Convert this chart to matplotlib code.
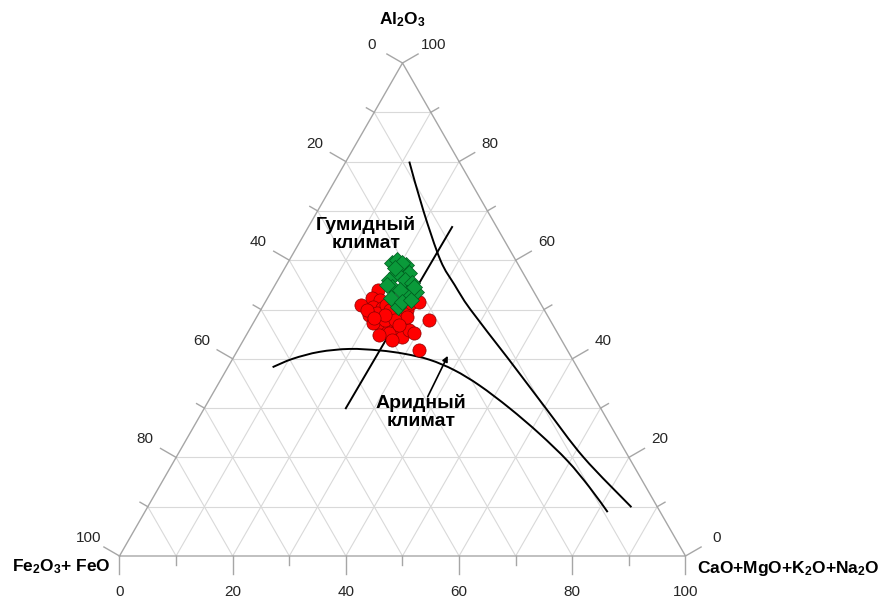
import numpy as np
import matplotlib
matplotlib.use("Agg")
import matplotlib.pyplot as plt
from matplotlib.path import Path
from matplotlib.patches import PathPatch

plt.rcParams['font.family'] = ['Liberation Sans', 'DejaVu Sans']
plt.rcParams['mathtext.default'] = 'regular'

# ternary data in percent: Al2O3 and CaO+MgO+K2O+Na2O (Fe2O3+FeO is the rest)
red_al = [54.0, 50.9, 52.3, 51.9, 50.5, 50.3, 49.3, 48.5, 48.9, 48.5, 49.3, 49.9,
          51.3, 51.5, 47.5, 46.9, 46.5, 47.3, 45.8, 45.2, 44.8, 44.4, 43.8, 45.8,
          45.2, 47.9, 41.8, 48.5, 50.9, 47.3, 49.9, 47.9, 50.9, 49.9,
          47.9, 48.9, 46.9, 48.3]
red_ca = [18.6, 17.3, 18.4, 20.0, 19.5, 21.3, 20.8, 22.9, 19.7, 24.0, 24.8, 25.8,
          25.9, 27.2, 26.3, 24.8, 23.2, 22.0, 26.2, 25.1, 23.5, 27.8, 26.3, 28.3,
          29.5, 30.8, 32.1, 26.5, 21.7, 21.1, 18.7, 22.9, 23.5, 22.8,
          24.7, 22.4, 26.0, 20.9]

green_al = [59.4, 60.0, 59.0, 57.6, 57.4, 57.4, 56.0, 55.4, 56.0, 54.6, 53.5,
            53.3, 55.0, 54.0, 52.3, 50.5, 51.5, 51.9, 54.6, 59.4, 58.4]
green_ca = [18.5, 19.1, 21.2, 21.0, 22.5, 20.2, 22.4, 23.9, 19.7, 20.9, 25.7,
            24.2, 19.7, 22.5, 21.9, 23.9, 24.2, 25.6, 24.8, 20.3, 19.4]

# boundary curves
curve1_al = [80.0, 70.0, 60.0, 55.0, 50.0, 40.0, 30.0, 20.0, 9.9]
curve1_ca = [11.2, 18.7, 26.7, 31.7, 37.0, 48.7, 60.3, 72.0, 85.5]

curve2_al = [38.3, 40.0, 41.4, 42.0, 41.7, 41.0, 39.8, 37.7, 34.6, 30.0, 24.8, 19.3, 14.0, 8.9]
curve2_ca = [7.9, 10.6, 14.6, 19.6, 25.1, 29.9, 34.9, 40.3, 46.3, 53.9, 61.8, 69.5, 76.0, 81.8]

line_al = [29.8, 66.9]
line_ca = [25.0, 25.4]

arrow_al = [32.3, 40.6]
arrow_ca = [38.3, 37.7]

tick_values = list(range(0, 101, 10))

H = np.sqrt(3) / 2
SX, SY = 566.0, 493.0 / H   # pixels per data unit


def tern(al, ca):
    al = np.asarray(al, dtype=float) / 100.0
    ca = np.asarray(ca, dtype=float) / 100.0
    return ca + al / 2.0, al * H


def smooth_path(x, y):
    # Catmull-Rom through the points, drawn as cubic Bezier segments
    pts = np.column_stack([x, y])
    n = len(pts)
    verts = [pts[0]]
    codes = [Path.MOVETO]
    for i in range(n - 1):
        p0 = pts[max(i - 1, 0)]
        p1 = pts[i]
        p2 = pts[i + 1]
        p3 = pts[min(i + 2, n - 1)]
        verts += [p1 + (p2 - p0) / 6, p2 - (p3 - p1) / 6, p2]
        codes += [Path.CURVE4] * 3
    return Path(verts, codes)


fig = plt.figure(figsize=(8.84, 6.01), dpi=100)
ax = fig.add_axes([119.5 / 884, 45 / 601, 566 / 884, 493 / 601])
ax.set_xlim(0, 1)
ax.set_ylim(0, H)
ax.axis('off')

grid_kw = dict(color='#d9d9d9', lw=0.8, zorder=1)
for v in tick_values[1:-1]:
    x, y = tern([v, v], [0, 100 - v])            # constant Al2O3
    ax.plot(x, y, **grid_kw)
    x, y = tern([0, 100 - v], [v, v])            # constant CaO+...
    ax.plot(x, y, **grid_kw)
    x, y = tern([0, 100 - v], [100 - v, 0])      # constant Fe2O3+FeO
    ax.plot(x, y, **grid_kw)

# triangle frame
x, y = tern([0, 0, 100, 0], [0, 100, 0, 0])
ax.plot(x, y, color='#a6a6a6', lw=1.0, zorder=2, clip_on=False)


def tick(px, py, d, t):
    L = 18 if t % 20 == 0 else 9
    ax.plot([px, px + L * d[0] / SX], [py, py + L * d[1] / SY],
            color='#a6a6a6', lw=1.0, clip_on=False, zorder=2)
    if t % 20 == 0:
        ax.text(px + 36 * d[0] / SX, py + 36 * d[1] / SY, str(t),
                ha='center', va='center', fontsize=11, color='#262626')


for t in tick_values:
    px, py = tern(0, t)                     # bottom: CaO+MgO+K2O+Na2O
    tick(px, py, (0, -1), t)
    px, py = tern(100 - t, 0)               # left: Fe2O3+FeO
    tick(px, py, (-0.866, 0.5), t)
    px, py = tern(t, 100 - t)               # right: Al2O3
    tick(px, py, (0.866, 0.5), t)

# boundary curves
for al, ca in [(curve1_al, curve1_ca), (curve2_al, curve2_ca)]:
    x, y = tern(al, ca)
    ax.add_patch(PathPatch(smooth_path(x, y), fill=False, ec='black', lw=1.4,
                           zorder=3, capstyle='butt'))
x, y = tern(line_al, line_ca)
ax.plot(x, y, color='black', lw=1.4, zorder=3, solid_capstyle='butt')

xa, ya = tern(arrow_al, arrow_ca)
ax.annotate('', xy=(xa[1], ya[1]), xytext=(xa[0], ya[0]),
            arrowprops=dict(arrowstyle='-|>', color='black', lw=1.2,
                            mutation_scale=8, shrinkA=0, shrinkB=0), zorder=3)

# points
x, y = tern(red_al, red_ca)
ax.plot(x, y, 'o', ms=9.5, mfc='#ff0000', mec='#8b0000', mew=0.5, zorder=4)
x, y = tern(green_al, green_ca)
ax.plot(x, y, 'D', ms=8.5, mfc='#0a9a3a', mec='#005a1e', mew=0.5, zorder=5)


def fpx(x, y):
    return x / 884, 1 - y / 601


ax.text(*fpx(366, 234), 'Гумидный\nклимат', transform=fig.transFigure,
        ha='center', va='center', fontsize=14, fontweight='bold', linespacing=1.15)
ax.text(*fpx(421, 412), 'Аридный\nклимат', transform=fig.transFigure,
        ha='center', va='center', fontsize=14, fontweight='bold', linespacing=1.15)

title_kw = dict(transform=fig.transFigure, fontsize=12.5, fontweight='bold', va='center')
ax.text(*fpx(402, 20), 'Al$_2$O$_3$', ha='center', **title_kw)
ax.text(*fpx(111, 567), 'Fe$_2$O$_3$+ FeO', ha='right', **title_kw)
ax.text(*fpx(697, 568), 'CaO+MgO+K$_2$O+Na$_2$O', ha='left', **title_kw)

fig.savefig('out.png', dpi=100)
